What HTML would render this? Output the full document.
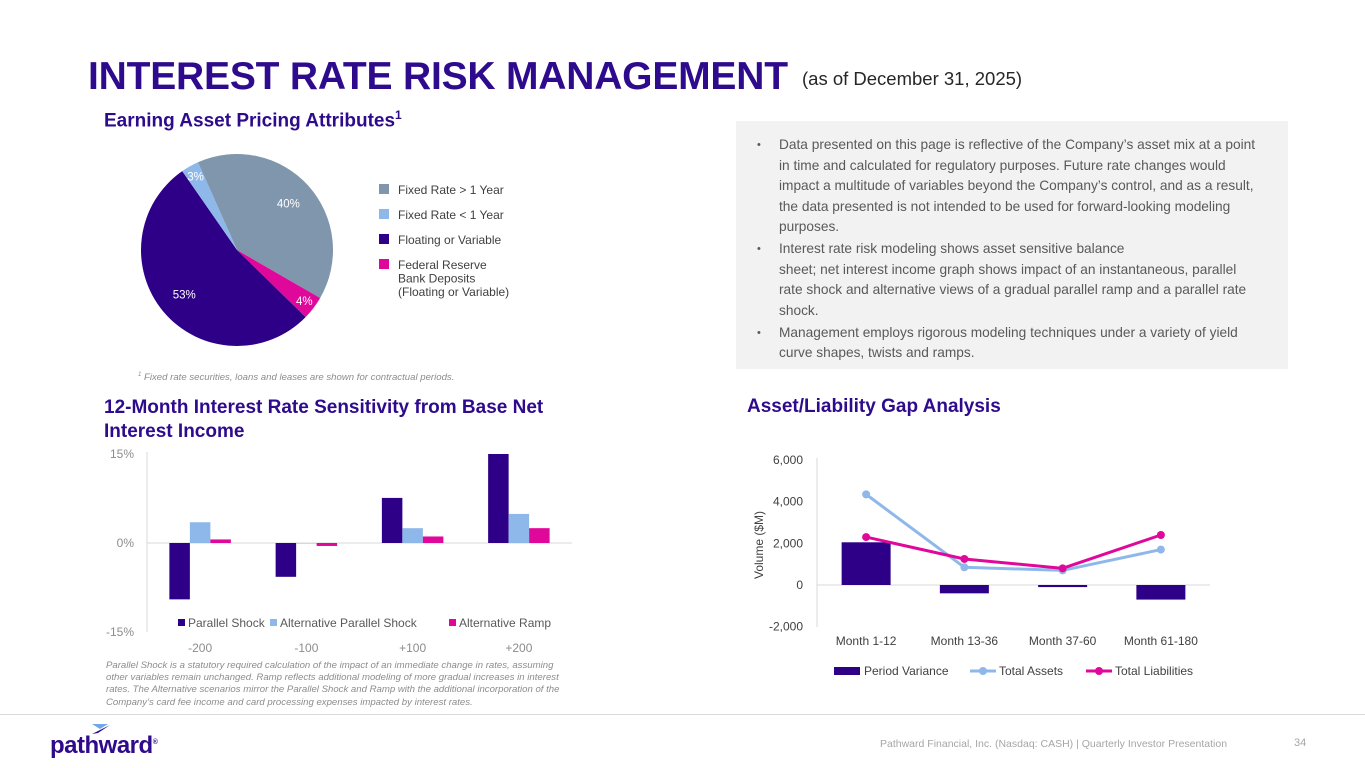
<!DOCTYPE html>
<html><head><meta charset="utf-8"><style>
body{margin:0;width:1365px;height:768px;background:#fff;font-family:"Liberation Sans",sans-serif;position:relative;overflow:hidden;color:#595959}
.a{position:absolute;white-space:nowrap}
h1{position:absolute;left:88px;top:55px;margin:0;font-size:39px;font-weight:bold;color:#2e0a8c;letter-spacing:-0.2px}
.sec{color:#2e0a8c;font-weight:bold;font-size:19px}
.box{position:absolute;left:736px;top:121px;width:552px;height:248px;background:#f2f2f2}
.box ul{margin:0;padding:0;list-style:none;position:absolute;left:21px;top:14px;width:506px;font-size:13.7px;line-height:20.5px;color:#595959}
.box li{position:relative;padding-left:22px;margin-bottom:1.5px}
.box li:before{content:"•";position:absolute;left:0;font-size:11px}
.note{font-style:italic;font-size:9.6px;color:#8c8c8c;line-height:12.2px}
svg text{font-family:"Liberation Sans",sans-serif}
</style></head><body>
<h1>INTEREST RATE RISK MANAGEMENT</h1>
<div class="a" style="left:802px;top:68px;font-size:18.5px;color:#262626">(as of December 31, 2025)</div>
<div class="a sec" style="left:104px;top:108px">Earning Asset Pricing Attributes<sup style="font-size:12px">1</sup></div>
<div class="a note" style="left:138px;top:369px"><sup style="font-size:6px">1</sup> Fixed rate securities, loans and leases are shown for contractual periods.</div>
<div class="box"><ul>
<li>Data presented on this page is reflective of the Company’s asset mix at a point<br>in time and calculated for regulatory purposes. Future rate changes would<br>impact a multitude of variables beyond the Company’s control, and as a result,<br>the data presented is not intended to be used for forward-looking modeling<br>purposes.</li>
<li>Interest rate risk modeling shows asset sensitive balance<br>sheet; net interest income graph shows impact of an instantaneous, parallel<br>rate shock and alternative views of a gradual parallel ramp and a parallel rate<br>shock.</li>
<li>Management employs rigorous modeling techniques under a variety of yield<br>curve shapes, twists and ramps.</li></ul></div>
<div class="a sec" style="left:104px;top:396px;line-height:24px">12-Month Interest Rate Sensitivity from Base Net<br>Interest Income</div>
<div class="a sec" style="left:747px;top:396px">Asset/Liability Gap Analysis</div>
<div class="a note" style="left:106px;top:660px">Parallel Shock is a statutory required calculation of the impact of an immediate change in rates, assuming<br>other variables remain unchanged. Ramp reflects additional modeling of more gradual increases in interest<br>rates. The Alternative scenarios mirror the Parallel Shock and Ramp with the additional incorporation of the<br>Company’s card fee income and card processing expenses impacted by interest rates.</div>
<div class="a" style="left:0;top:714px;width:1365px;height:1px;background:#d9d9d9"></div>
<div class="a" style="left:50px;top:732px;font-size:24px;font-weight:bold;color:#2e0a8c;letter-spacing:-0.5px">pathward<sup style="font-size:7px">®</sup></div>
<svg class="a" style="left:90px;top:723px" width="22" height="12"><polygon points="2,1 18,1 10,6" fill="#6fa8e8"/><polygon points="20,2 8,10 2,11" fill="#2e0a8c"/></svg>
<div class="a" style="left:880px;top:738px;font-size:10.5px;color:#a6a6a6">Pathward Financial, Inc. (Nasdaq: CASH) | Quarterly Investor Presentation</div>
<div class="a" style="left:1294px;top:737px;font-size:11px;color:#a6a6a6">34</div>
<svg id="s" class="a" style="left:0;top:0" width="1365" height="768"></svg>
<script>
const legendLabels=["Fixed Rate > 1 Year","Fixed Rate < 1 Year","Floating or Variable","Federal Reserve Bank Deposits (Floating or Variable)"];
const legendColors=["#8096ad","#8fb8ea","#2e0088","#e0089a"];
const sliceNames=["fixed-gt-1y","fed-deposits","floating","fixed-lt-1y"];
const sliceValues=[40,4,53,3];
const sliceColors=["#8096ad","#e0089a","#2e0088","#8fb8ea"];
const sensCats=["-200","-100","+100","+200"];
const sensSeries=["Parallel Shock","Alternative Parallel Shock","Alternative Ramp"];
const parallelShock=[-9.5,-5.7,7.6,15];
const altParallel=[3.5,0,2.5,4.9];
const altRamp=[0.6,-0.5,1.1,2.5];
const sensTicks=[15,0,-15];
const gapCats=["Month 1-12","Month 13-36","Month 37-60","Month 61-180"];
const periodVariance=[2050,-400,-100,-700];
const totalAssets=[4350,850,700,1700];
const totalLiabilities=[2300,1250,800,2400];
const gapTicks=[6000,4000,2000,0,-2000];
const NS="http://www.w3.org/2000/svg",S=document.getElementById('s');
function mk(t,a,txt){const e=document.createElementNS(NS,t);for(const k in a)e.setAttribute(k,a[k]);if(txt!==undefined)e.textContent=txt;S.appendChild(e);return e;}
// pie
const cx=237,cy=250,r=96;let ang=-24*Math.PI/180;const tot=sliceValues.reduce((a,b)=>a+b,0);
sliceValues.forEach((v,i)=>{
 const a0=ang,a1=ang+v/tot*2*Math.PI;ang=a1;
 const p=(a,rr)=>[cx+rr*Math.sin(a),cy-rr*Math.cos(a)];
 const [x0,y0]=p(a0,r),[x1,y1]=p(a1,r);
 const e=mk('path',{d:`M${cx},${cy}L${x0},${y0}A${r},${r} 0 ${a1-a0>Math.PI?1:0} 1 ${x1},${y1}Z`,fill:sliceColors[i]});
 
 
 const m=(a0+a1)/2,rr=v<6?r*0.88:r*0.72;const [lx,ly]=p(m,rr);
 const t=mk('text',{x:lx,y:ly+4,'font-size':11.5,fill:'#fff','text-anchor':'middle'},v+'%');
 
 
});
[190,215,240,265].forEach((y,i)=>{
 const b=mk('rect',{x:379,y:y-6,width:10,height:10,fill:legendColors[i]});
 
 
 const lines=i==3?["Federal Reserve","Bank Deposits","(Floating or Variable)"]:[legendLabels[i]];
 lines.forEach((l,j)=>{const t=mk('text',{x:398,y:y+4+j*13.5,'font-size':12,fill:'#404040'},l);
 
 });
});
// sensitivity bar chart
const sx0=147,sx1=572,sy=v=>543-v*(89/15);
sensTicks.forEach(t=>{const e=mk('text',{x:134,y:sy(t)+4,'font-size':12,fill:'#8c8c8c','text-anchor':'end'},t+'%');

});
mk('line',{x1:sx0,y1:452,x2:sx0,y2:632,stroke:'#d9d9d9'});
mk('line',{x1:sx0,y1:sy(0),x2:sx1,y2:sy(0),stroke:'#d9d9d9'});
const gw=(sx1-sx0)/4,bw=20.5,sc=["#2e0088","#8fb8ea","#e0089a"];
[parallelShock,altParallel,altRamp].forEach((ser,si)=>{ser.forEach((v,i)=>{
 const x=sx0+gw*i+gw/2-1.5*bw+si*bw;const y0=sy(Math.max(v,0)),y1=sy(Math.min(v,0));
 const e=mk('rect',{x:x,y:y0,width:bw,height:Math.max(y1-y0,0.5),fill:sc[si]});
 
 });});
sensCats.forEach((c,i)=>{const e=mk('text',{x:sx0+gw*i+gw/2,y:652,'font-size':12,fill:'#8c8c8c','text-anchor':'middle'},c);

});
[178,270,449].forEach((x,i)=>{mk('rect',{x:x,y:619,width:7,height:7,fill:sc[i]});
 const t=mk('text',{x:x+10,y:627,'font-size':12,fill:'#595959'},sensSeries[i]);
 
 });
// gap chart
const gx0=817,gx1=1210,gy=v=>585-v*(125/6000),cw=(gx1-gx0)/4,gc=i=>gx0+cw*i+cw/2;
gapTicks.forEach(t=>{const e=mk('text',{x:803,y:gy(t)+4,'font-size':12,fill:'#404040','text-anchor':'end'},t.toLocaleString('en-US'));

});
mk('line',{x1:gx0,y1:458,x2:gx0,y2:627,stroke:'#d9d9d9'});
mk('line',{x1:gx0,y1:gy(0),x2:gx1,y2:gy(0),stroke:'#d9d9d9'});
const yt=mk('text',{x:0,y:0,'font-size':12,fill:'#404040','text-anchor':'middle',transform:'translate(763,545) rotate(-90)'},'Volume ($M)');


periodVariance.forEach((v,i)=>{const y0=gy(Math.max(v,0)),y1=gy(Math.min(v,0));const e=mk('rect',{x:gc(i)-24.5,y:y0,width:49,height:Math.max(y1-y0,1),fill:'#2e0088'});

});
[[totalAssets,'#8fb8ea','assets'],[totalLiabilities,'#e0089a','liabilities']].forEach(([ser,col,n])=>{
 const l=mk('polyline',{points:ser.map((v,i)=>gc(i)+','+gy(v)).join(' '),fill:'none',stroke:col,'stroke-width':3});
 
 
 ser.forEach((v,i)=>{const c=mk('circle',{cx:gc(i),cy:gy(v),r:4,fill:col});
 
 });});
gapCats.forEach((c,i)=>{const e=mk('text',{x:gc(i),y:645,'font-size':12,fill:'#404040','text-anchor':'middle'},c);

});
mk('rect',{x:834,y:667,width:26,height:8,fill:'#2e0088'});
mk('text',{x:864,y:675,'font-size':12,fill:'#404040'},'Period Variance');
mk('line',{x1:970,y1:671,x2:996,y2:671,stroke:'#8fb8ea','stroke-width':3});
mk('circle',{cx:983,cy:671,r:4,fill:'#8fb8ea'});
mk('text',{x:999,y:675,'font-size':12,fill:'#404040'},'Total Assets');
mk('line',{x1:1086,y1:671,x2:1112,y2:671,stroke:'#e0089a','stroke-width':3});
mk('circle',{cx:1099,cy:671,r:4,fill:'#e0089a'});
mk('text',{x:1115,y:675,'font-size':12,fill:'#404040'},'Total Liabilities');
</script>
</body></html>
